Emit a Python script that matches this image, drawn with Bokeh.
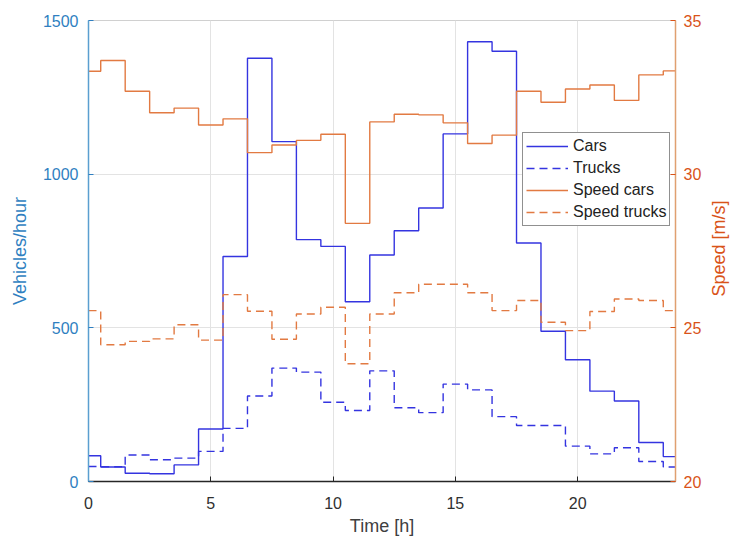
import math
from bokeh.plotting import figure
from bokeh.models import Range1d, LinearAxis, FixedTicker, Legend, Title
from bokeh.embed import file_html
from bokeh.resources import INLINE

hours = list(range(25))
cars = [84, 47, 27, 25, 54, 171, 732, 1377, 1106, 787, 765, 585, 737, 816, 890,
        1131, 1431, 1400, 776, 489, 396, 294, 262, 127, 81]
trucks = [49, 48, 86, 71, 76, 98, 173, 278, 369, 356, 258, 231, 360, 240, 224,
          317, 298, 211, 182, 182, 115, 90, 110, 65, 47]
speed_cars = [33.35, 33.7, 32.7, 32.0, 32.15, 31.6, 31.8, 30.7, 30.95, 31.1, 31.3,
              28.4, 31.7, 31.95, 31.93, 31.67, 31.0, 31.27, 32.7, 32.34, 32.77,
              32.9, 32.4, 33.23, 33.36]
speed_trucks = [25.56, 24.45, 24.56, 24.64, 25.1, 24.6, 26.08, 25.54, 24.63, 25.45,
                25.67, 23.83, 25.45, 26.14, 26.42, 26.42, 26.14, 25.56, 25.89, 25.18,
                24.91, 25.53, 25.94, 25.89, 25.56]
x_ticks = [0, 5, 10, 15, 20]
left_ticks = [0, 500, 1000, 1500]
right_ticks = [20, 25, 30, 35]

BLUE_LINE = "#3434e0"
ORANGE_LINE = "#e27a42"
LEFT_COL = "#2f7fc1"
RIGHT_COL = "#d95319"
FONT = "Liberation Sans"

p = figure(frame_width=587, frame_height=461, output_backend="svg", toolbar_location=None,
           x_range=Range1d(0, 24), y_range=Range1d(0, 1500),
           min_border_left=88, min_border_right=56, min_border_top=20,
           min_border_bottom=56)
p.extra_y_ranges = {"speed": Range1d(20, 35)}
p.outline_line_color = "#d0d0d0"
p.outline_line_width = 1

r1 = p.step(hours, cars, mode="center", line_color=BLUE_LINE, line_width=1.4)
r2 = p.step(hours, trucks, mode="center", line_color=BLUE_LINE, line_width=1.4,
            line_dash="8 5")
r3 = p.step(hours, speed_cars, mode="center", line_color=ORANGE_LINE, line_width=1.4,
            y_range_name="speed")
r4 = p.step(hours, speed_trucks, mode="center", line_color=ORANGE_LINE, line_width=1.4,
            line_dash="8 5", y_range_name="speed")

ax_r = LinearAxis(y_range_name="speed")
p.add_layout(ax_r, "right")

for ax in p.xaxis:
    ax.ticker = FixedTicker(ticks=x_ticks)
    ax.axis_label = "Time [h]"
    ax.axis_label_text_color = "#404040"
    ax.major_label_text_color = "#303030"
    ax.axis_line_color = "#262626"
    ax.major_tick_line_color = "#262626"
    ax.major_label_standoff = 15
    ax.axis_label_standoff = 4

for ax in p.yaxis:
    if ax is ax_r:
        ax.ticker = FixedTicker(ticks=right_ticks)
        col = RIGHT_COL
        ax.axis_line_color = "#e0a070"
        ax.major_label_standoff = 8
        ax.axis_label_standoff = 15
    else:
        ax.ticker = FixedTicker(ticks=left_ticks)
        ax.axis_label = "Vehicles/hour"
        col = LEFT_COL
        ax.axis_line_color = "#5a9fd0"
        ax.major_label_standoff = 10
        ax.axis_label_standoff = 10
    ax.axis_label_text_color = col
    ax.major_label_text_color = col
    ax.major_tick_line_color = col

for ax in p.xaxis + p.yaxis:
    ax.major_tick_in = 5
    ax.major_tick_out = 0
    ax.minor_tick_line_color = None
    ax.axis_line_width = 1.5
    ax.major_label_text_font = FONT
    ax.major_label_text_font_size = "16px"
    ax.axis_label_text_font = FONT
    ax.axis_label_text_font_size = "18px"
    ax.axis_label_text_font_style = "normal"

# right axis title, reading bottom-to-top
right_label = "Speed [m/s]"
try:
    ax_r.axis_label_orientation = math.pi / 2
    ax_r.axis_label = right_label
    try:
        ax_r.axis_label_align = "start"
        ax_r.axis_label = "\u00a0" * 37 + right_label
    except Exception:
        pass
except Exception:
    p.add_layout(Title(text=right_label, align="center", text_font=FONT,
                       text_font_size="18px", text_font_style="normal",
                       text_color=RIGHT_COL, standoff=0), "right")

p.xgrid.grid_line_color = "#e3e3e3"
p.ygrid.grid_line_color = "#e3e3e3"
p.xgrid.ticker = FixedTicker(ticks=x_ticks)
p.ygrid.ticker = FixedTicker(ticks=[500, 1000])

legend = Legend(items=[("Cars", [r1]), ("Trucks", [r2]),
                       ("Speed cars", [r3]), ("Speed trucks", [r4])],
                location=(434, 255))
legend.border_line_color = "#222222"
legend.border_line_width = 1
legend.background_fill_color = "white"
legend.background_fill_alpha = 1
legend.label_text_font = FONT
legend.label_text_font_size = "16px"
legend.label_text_color = "#222222"
legend.glyph_width = 42
legend.glyph_height = 20
legend.label_height = 20
legend.spacing = 2
legend.padding = 3
legend.margin = 0
legend.label_standoff = 5
p.add_layout(legend)

open("out.html", "w").write(file_html(p, INLINE))
